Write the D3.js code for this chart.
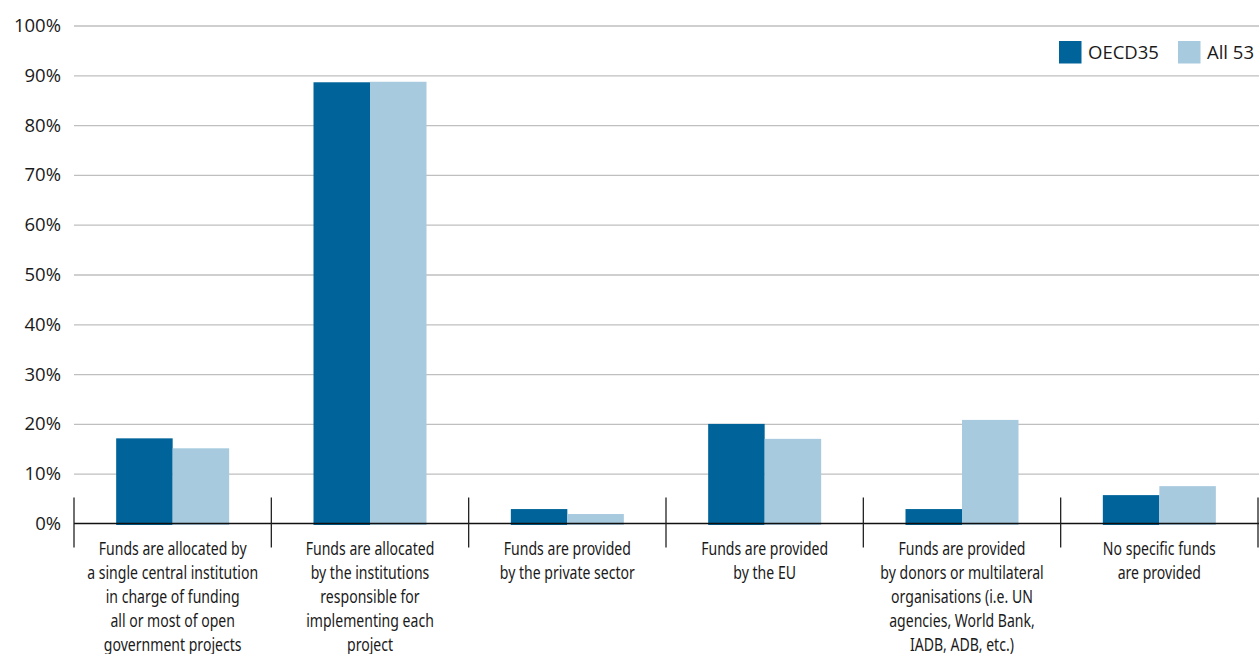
<!DOCTYPE html>
<html>
<head>
<meta charset="utf-8">
<script src="https://cdn.jsdelivr.net/npm/d3@7"></script>
<style>
  html, body { margin: 0; padding: 0; background: #fff; }
  svg { display: block; }
</style>
</head>
<body>
<svg id="chart" width="1259" height="654"></svg>
<script>
const categories = [
  ["Funds are allocated by", "a single central institution", "in charge of funding", "all or most of open", "government projects"],
  ["Funds are allocated", "by the institutions", "responsible for", "implementing each", "project"],
  ["Funds are provided", "by the private sector"],
  ["Funds are provided", "by the EU"],
  ["Funds are provided", "by donors or multilateral", "organisations (i.e. UN", "agencies, World Bank,", "IADB, ADB, etc.)"],
  ["No specific funds", "are provided"]
];
const seriesNames = ["OECD35", "All 53"];
const oecd35 = [17.1, 88.6, 2.9, 20.0, 2.9, 5.7];
const all53 = [15.1, 88.7, 1.9, 17.0, 20.8, 7.5];
const yTicks = [0, 10, 20, 30, 40, 50, 60, 70, 80, 90, 100];
const colors = ["#00649a", "#a7cade"];

(function () {
const svg = d3.select("#chart");
const mLeft = 74, mRight = 1258, mTop = 25.5, mBottom = 523.5;

const x0 = d3.scaleBand().domain(d3.range(categories.length)).range([mLeft, mRight]).padding(0);
const groupW = 113;
const x1 = d3.scaleBand().domain(seriesNames)
  .range([x0.bandwidth() / 2 - groupW / 2, x0.bandwidth() / 2 + groupW / 2]).padding(0);
const y = d3.scaleLinear().domain([0, 100]).range([mBottom, mTop]);
const color = d3.scaleOrdinal().domain(seriesNames).range(colors);

// gridlines
const yAxis = d3.axisLeft(y).tickValues(yTicks).tickFormat(d => d + "%").tickSize(-(1259 - mLeft)).tickPadding(13);
const gy = svg.append("g").attr("transform", `translate(${mLeft},0)`).call(yAxis);
gy.select(".domain").remove();
gy.selectAll(".tick line").attr("stroke", "#bfbfbf").attr("stroke-width", 1.3)
  .filter(d => d === 0).attr("stroke-opacity", 0);
gy.selectAll(".tick text").attr("font-family", "'Open Sans', sans-serif").attr("font-size", 18.5).attr("fill", "#1a1a1a");

// bars
const rows = categories.map((c, i) => [oecd35[i], all53[i]]);
const groups = svg.append("g").selectAll("g").data(rows).join("g")
  .attr("transform", (d, i) => `translate(${x0(i)},0)`);
groups.selectAll("rect").data(d => d.map((v, j) => ({ key: seriesNames[j], v })))
  .join("rect")
  .attr("x", d => x1(d.key))
  .attr("width", x1.bandwidth())
  .attr("y", d => y(d.v))
  .attr("height", d => y(0) - y(d.v) + 1.5)
  .attr("fill", d => color(d.key));

// zero line
svg.append("line").attr("x1", mLeft).attr("x2", 1259).attr("y1", y(0)).attr("y2", y(0))
  .attr("stroke", "#111").attr("stroke-width", 1.3);

// category separators
const seps = d3.range(categories.length + 1).map(i => i < categories.length ? x0(i) : mRight);
svg.append("g").selectAll("line").data(seps).join("line")
  .attr("x1", d => d).attr("x2", d => d)
  .attr("y1", y(0) - 26).attr("y2", y(0) + 24)
  .attr("stroke", "#222").attr("stroke-width", 1.3);

// category labels (condensed)
const lab = svg.append("g").selectAll("g").data(categories).join("g")
  .attr("transform", (d, i) => `translate(${x0(i) + x0.bandwidth() / 2},0) scale(0.74,1)`)
  .append("text")
  .attr("text-anchor", "middle")
  .attr("font-family", "'Noto Sans', 'Open Sans', sans-serif")
  .attr("font-size", 19)
  .attr("fill", "#1a1a1a");
lab.selectAll("tspan").data(d => d).join("tspan")
  .attr("x", 0)
  .attr("y", (d, k) => 555.5 + k * 23.8)
  .text(d => d);

// legend
const legend = svg.append("g").attr("transform", "translate(1059,41)");
const li = legend.selectAll("g").data(seriesNames).join("g")
  .attr("transform", (d, i) => `translate(${i * 119},0)`);
li.append("rect").attr("width", 22.5).attr("height", 22.5).attr("fill", d => color(d));
li.append("text").attr("x", 29).attr("y", 11.5).attr("dy", "0.35em")
  .attr("font-family", "'Open Sans', sans-serif").attr("font-size", 18.5).attr("fill", "#1a1a1a")
  .text(d => d);
})();
</script>
</body>
</html>
